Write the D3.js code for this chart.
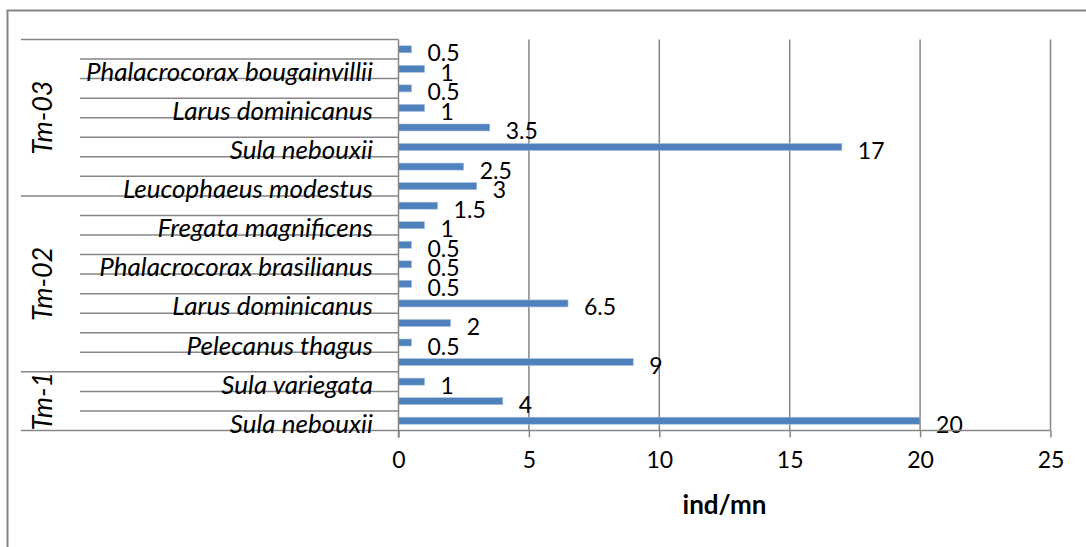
<!DOCTYPE html>
<html>
<head>
<meta charset="utf-8">
<script src="https://cdn.jsdelivr.net/npm/d3@7"></script>
<style>
  body { margin: 0; background: #fff; }
  svg { display: block; font-family: Lato, "Liberation Sans", sans-serif; }
</style>
</head>
<body>
<script>
// categories, bottom row first (Excel only printed every other species name)
var species = ["Sula nebouxii", "", "Sula variegata", "", "Pelecanus thagus", "",
  "Larus dominicanus", "", "Phalacrocorax brasilianus", "", "Fregata magnificens", "",
  "Leucophaeus modestus", "", "Sula nebouxii", "", "Larus dominicanus", "",
  "Phalacrocorax bougainvillii", ""];
var values = [20, 4, 1, 9, 0.5, 2, 6.5, 0.5, 0.5, 0.5, 1, 1.5, 3, 2.5, 17, 3.5, 1, 0.5, 1, 0.5];
var groupNames = ["Tm-1", "Tm-02", "Tm-03"];
var groupSizes = [3, 9, 8];
var xTicks = [0, 5, 10, 15, 20, 25];

var width = 1086, height = 547;
var gray = "#868686";

var svg = d3.select("body").append("svg")
    .attr("width", width)
    .attr("height", height);

// outer chart frame (runs off the right / bottom edge in the picture)
svg.append("path")
    .attr("d", "M7.5,548 V10.5 H1090")
    .attr("fill", "none")
    .attr("stroke", gray)
    .attr("stroke-width", 2);

var x = d3.scaleLinear().domain([0, 25]).range([398.5, 1050.5]);
var y = d3.scaleBand().domain(d3.range(values.length)).range([430.5, 39.5]);

// vertical gridlines
svg.append("g").selectAll("line")
    .data(xTicks.slice(1))
    .enter().append("line")
      .attr("x1", function(d) { return x(d); })
      .attr("x2", function(d) { return x(d); })
      .attr("y1", 39.5)
      .attr("y2", 430.5)
      .attr("stroke", gray)
      .attr("stroke-width", 1.5);

// row separators on the category axis
var groupStarts = [0];
groupSizes.forEach(function(n, i) { groupStarts.push(groupStarts[i] + n); });

svg.append("g").selectAll("line")
    .data(d3.range(values.length + 1))
    .enter().append("line")
      .attr("x1", function(i) { return groupStarts.indexOf(i) >= 0 ? 21 : 80; })
      .attr("x2", x(0))
      .attr("y1", function(i) { return i < values.length ? y(i) + y.bandwidth() : y(i - 1); })
      .attr("y2", function(i) { return i < values.length ? y(i) + y.bandwidth() : y(i - 1); })
      .attr("stroke", gray)
      .attr("stroke-width", 1.5);

// bars
svg.append("g").selectAll("rect")
    .data(values)
    .enter().append("rect")
      .attr("x", x(0))
      .attr("y", function(d, i) { return y(i) + y.bandwidth() / 2 - 3.5; })
      .attr("width", function(d) { return x(d) - x(0); })
      .attr("height", 7)
      .attr("fill", "#4f81bd")
      .attr("stroke", "#a7c0de")
      .attr("stroke-width", 0.6);

// value labels
svg.append("g").selectAll("text")
    .data(values)
    .enter().append("text")
      .attr("x", function(d) { return x(d) + 16; })
      .attr("y", function(d, i) { return y(i) + y.bandwidth() / 2 + 3; })
      .attr("dominant-baseline", "central")
      .attr("font-size", 23)
      .attr("fill", "#000")
      .text(function(d) { return d; });

// species labels
svg.append("g").selectAll("text")
    .data(species)
    .enter().append("text")
      .attr("x", 373)
      .attr("y", function(d, i) { return y(i) + y.bandwidth() / 2 + 2; })
      .attr("text-anchor", "end")
      .attr("dominant-baseline", "central")
      .attr("font-size", 26)
      .attr("font-style", "italic")
      .text(function(d) { return d; });

// group labels, rotated
svg.append("g").selectAll("text")
    .data(groupNames)
    .enter().append("text")
      .attr("transform", function(d, i) {
        var top = y(groupStarts[i + 1] - 1), bottom = y(groupStarts[i]) + y.bandwidth();
        return "translate(41," + (top + bottom) / 2 + ") rotate(-90)";
      })
      .attr("text-anchor", "middle")
      .attr("dominant-baseline", "central")
      .attr("font-size", 27)
      .attr("font-style", "italic")
      .text(function(d) { return d; });

// axes
var xAxis = d3.axisBottom(x).tickValues(xTicks).tickSize(7).tickPadding(14);
var gx = svg.append("g")
    .attr("transform", "translate(0,430.5)")
    .call(xAxis);
gx.select(".domain").attr("stroke", gray).attr("stroke-width", 1.5).attr("d", "M" + x(0) + ",0H" + x(25));
gx.selectAll(".tick line").attr("stroke", gray).attr("stroke-width", 1.5);
gx.selectAll(".tick text")
    .attr("font-family", "Lato, sans-serif")
    .attr("font-size", 23)
    .attr("fill", "#000");

svg.append("line")
    .attr("x1", x(0)).attr("x2", x(0))
    .attr("y1", 39.5).attr("y2", 437.5)
    .attr("stroke", gray)
    .attr("stroke-width", 1.5);

svg.append("text")
    .attr("x", (x(0) + x(25)) / 2)
    .attr("y", 504)
    .attr("text-anchor", "middle")
    .attr("dominant-baseline", "central")
    .attr("font-size", 26)
    .attr("font-weight", "bold")
    .text("ind/mn");
</script>
</body>
</html>
